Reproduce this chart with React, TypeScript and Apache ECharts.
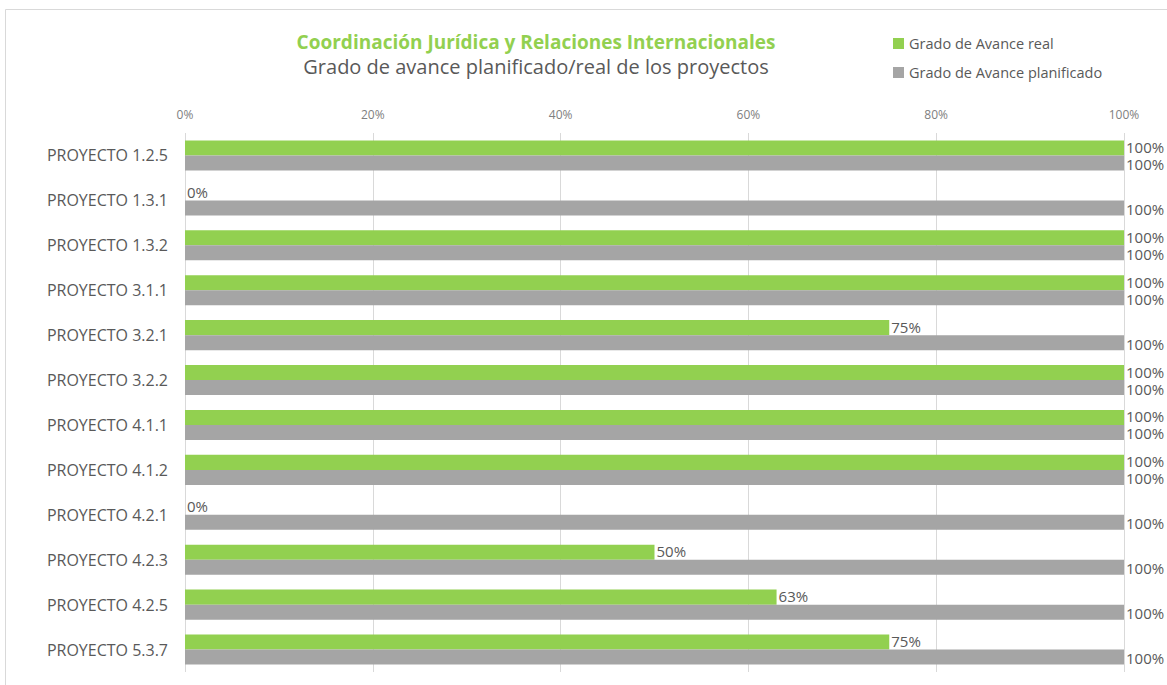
import React, { useEffect, useRef } from "react";
import * as echarts from "echarts";

const categories = [
  "PROYECTO 1.2.5",
  "PROYECTO 1.3.1",
  "PROYECTO 1.3.2",
  "PROYECTO 3.1.1",
  "PROYECTO 3.2.1",
  "PROYECTO 3.2.2",
  "PROYECTO 4.1.1",
  "PROYECTO 4.1.2",
  "PROYECTO 4.2.1",
  "PROYECTO 4.2.3",
  "PROYECTO 4.2.5",
  "PROYECTO 5.3.7",
];
const avanceReal = [100, 0, 100, 100, 75, 100, 100, 100, 0, 50, 63, 75];
const avancePlanificado = [100, 100, 100, 100, 100, 100, 100, 100, 100, 100, 100, 100];
const xTicks = [0, 20, 40, 60, 80, 100];

const FONT = "'Open Sans', Lato, sans-serif";

export default function App() {
  const ref = useRef<HTMLDivElement>(null);
  useEffect(() => {
    if (!ref.current) return;
    const chart = echarts.init(ref.current, null, { renderer: "svg" });
    chart.setOption({
      animation: false,
      backgroundColor: "#ffffff",
      textStyle: { fontFamily: FONT },
      title: {
        text: "Coordinación Jurídica y Relaciones Internacionales",
        subtext: "Grado de avance planificado/real de los proyectos",
        left: 531,
        textAlign: "center",
        top: 27,
        itemGap: 5,
        textStyle: { color: "#92D050", fontSize: 19, fontWeight: "bold", fontFamily: FONT },
        subtextStyle: { color: "#595959", fontSize: 20, fontFamily: FONT },
      },
      legend: {
        orient: "vertical",
        left: 888,
        top: 31,
        itemGap: 14,
        itemWidth: 11,
        itemHeight: 11,
        icon: "rect",
        textStyle: { color: "#595959", fontSize: 14.5, fontFamily: FONT },
        data: ["Grado de Avance real", "Grado de Avance planificado"],
      },
      graphic: [
        {
          type: "rect",
          shape: { x: 5.5, y: 9.5, width: 1300, height: 800 },
          style: { fill: "none", stroke: "#d9d9d9", lineWidth: 1 },
          silent: true,
        },
      ],
      grid: { left: 185, right: 43, top: 133, bottom: 13, containLabel: false },
      xAxis: {
        type: "value",
        position: "top",
        min: 0,
        max: 100,
        interval: 20,
        axisLine: { show: false },
        axisTick: { show: false },
        splitLine: { show: true, lineStyle: { color: "#d9d9d9", width: 1 } },
        axisLabel: {
          color: "#808080",
          fontSize: 12,
          margin: 13,
          fontFamily: FONT,
          formatter: (v: number) => (xTicks.includes(v) ? v + "%" : ""),
        },
      },
      yAxis: {
        type: "category",
        inverse: true,
        data: categories,
        axisLine: { show: false },
        axisTick: { show: false },
        axisLabel: { color: "#595959", fontSize: 16, margin: 17, fontFamily: FONT },
      },
      series: [
        {
          name: "Grado de Avance real",
          type: "bar",
          data: avanceReal,
          barGap: "0%",
          barCategoryGap: "33%",
          itemStyle: { color: "#92D050" },
          label: {
            show: true,
            position: "right",
            distance: 2,
            offset: [0, -1],
            formatter: "{c}%",
            color: "#595959",
            fontSize: 15,
            lineHeight: 14,
            fontFamily: FONT,
          },
        },
        {
          name: "Grado de Avance planificado",
          type: "bar",
          data: avancePlanificado,
          itemStyle: { color: "#A5A5A5" },
          label: {
            show: true,
            position: "right",
            distance: 2,
            offset: [0, 1],
            formatter: "{c}%",
            color: "#595959",
            fontSize: 15,
            lineHeight: 14,
            fontFamily: FONT,
          },
        },
      ],
    });
    return () => chart.dispose();
  }, []);
  return (
    <div
      ref={ref}
      style={{ position: "absolute", left: 0, top: 0, width: 1167, height: 685 }}
    />
  );
}
